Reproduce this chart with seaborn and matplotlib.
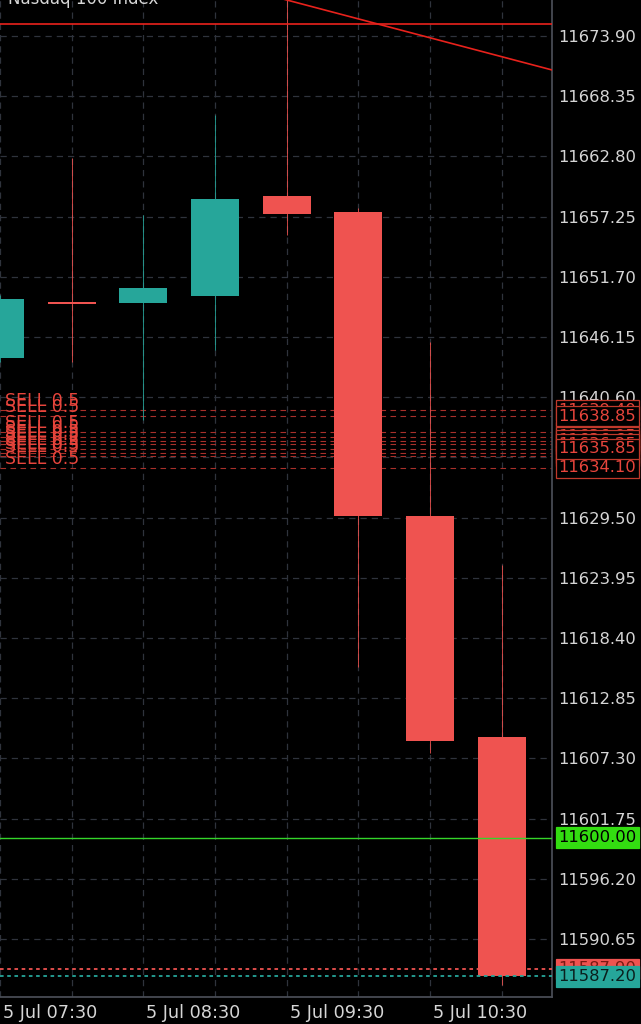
import numpy as np
import pandas as pd
import seaborn as sns
import matplotlib.pyplot as plt
import matplotlib.transforms as mtransforms

# 30 minute candles, 5 Jul
times = ["07:30", "08:00", "08:30", "09:00", "09:30", "10:00", "10:30", "11:00"]
opens = [11644.20, 11649.40, 11649.30, 11649.95, 11659.15, 11657.65, 11629.65, 11609.25]
highs = [11650.00, 11662.65, 11657.40, 11666.60, 11680.00, 11658.05, 11645.70, 11625.10]
lows = [11643.80, 11643.85, 11638.50, 11644.95, 11655.55, 11615.75, 11607.80, 11586.40]
closes = [11649.65, 11649.20, 11650.65, 11658.85, 11657.50, 11629.65, 11608.90, 11587.20]

price_ticks = [11673.90, 11668.35, 11662.80, 11657.25, 11651.70, 11646.15, 11640.60,
               11635.05, 11629.50, 11623.95, 11618.40, 11612.85, 11607.30, 11601.75,
               11596.20, 11590.65]

# pending sell orders (draw order: the last ones end up on top)
sell_levels = [11639.40, 11637.40, 11636.95, 11636.60, 11636.25, 11635.50, 11635.15,
               11634.10, 11638.85, 11635.85]
sell_label = "SELL 0.5"

resistance_level = 11675.00
target_level = 11600.00
bid_level = 11587.90
last_price = 11587.20
trend_x = [3.8, 7.7]
trend_y = [11677.57, 11670.77]

UP = "#26a69a"
DOWN = "#ef5350"
RED_LINE = "#e8221c"
GRID = "#2f333c"
TXT = "#d6d6d6"

sns.set_theme(style="dark", rc={
    "axes.facecolor": "black",
    "figure.facecolor": "black",
    "axes.edgecolor": "#4a4e57",
})
plt.rcParams['font.family'] = ['DejaVu Sans']

df = pd.DataFrame({"t": times, "o": opens, "h": highs, "l": lows, "c": closes})
df["x"] = np.arange(len(df))
df["up"] = df["c"] >= df["o"]
df["color"] = np.where(df["up"], UP, DOWN)

fig = plt.figure(figsize=(6.41, 10.24), dpi=100)
ax = fig.add_axes([0.0, 27 / 1024, 552 / 641, 1 - 27 / 1024])

# wicks and bodies
ax.vlines(df["x"], df["l"], df["h"], colors=df["color"], lw=0.7, alpha=0.85, zorder=3)
ax.bar(df["x"], (df["c"] - df["o"]).abs().clip(lower=0.15),
       bottom=df[["o", "c"]].min(axis=1), width=0.67, color=df["color"],
       edgecolor="none", zorder=4)

# horizontal levels
ax.axhline(resistance_level, color=RED_LINE, lw=1.2, zorder=5)
ax.axhline(target_level, color="#34d52a", lw=1.0, zorder=5)
ax.axhline(bid_level, color=DOWN, lw=1.3, ls=(0, (2, 2)), zorder=5)
ax.axhline(last_price, color=UP, lw=1.3, ls=(0, (2, 2)), zorder=5)
sns.lineplot(x=trend_x, y=trend_y, ax=ax, color=RED_LINE, lw=1.2, zorder=5)

for lvl in sell_levels:
    ax.axhline(lvl, color="#a8302a", lw=0.8, ls=(0, (5, 4)), zorder=2)
    ax.annotate(sell_label, xy=(0, lvl), xycoords=("axes fraction", "data"),
                xytext=(3.5, 0), textcoords="offset points", ha="left",
                va="bottom", color="#e8453c", fontsize=12.5, zorder=6)

ax.set_xlim(0, 7.70)
ax.set_ylim(11585.30, 11677.22)

ax.set_yticks(price_ticks)
ax.set_yticklabels([f"{v:.2f}" for v in price_ticks])
ax.yaxis.tick_right()
ax.tick_params(axis="y", length=0, pad=4.5, labelcolor=TXT, labelsize=11.8)

ax.set_xticks(df["x"])
ax.set_xticklabels([f"5 Jul {t}" if i % 2 == 0 else "" for i, t in enumerate(times)])
ax.tick_params(axis="x", length=0, pad=5, labelcolor=TXT, labelsize=12.7)
for lab in ax.get_xticklabels():
    lab.set_ha("left")
    lab.set_transform(lab.get_transform() + mtransforms.ScaledTranslation(3 / 100, 0, fig.dpi_scale_trans))

ax.grid(True, color=GRID, lw=0.9, ls=(0, (5, 4)))
ax.set_axisbelow(True)
for side in ["top", "left"]:
    ax.spines[side].set_visible(False)
ax.spines["right"].set_color("#4a4e57")
ax.spines["bottom"].set_color("#4a4e57")


def price_box(value, text_color, face, edge):
    ax.annotate(f"{value:.2f}", xy=(1, value), xycoords=("axes fraction", "data"),
                xytext=(4.5, 0), textcoords="offset points", ha="left", va="center",
                color=text_color, fontsize=11.8, annotation_clip=False, zorder=10,
                bbox=dict(boxstyle="square,pad=0.16", facecolor=face, edgecolor=edge, lw=0.9))


for lvl in sell_levels:
    price_box(lvl, "#e8453c", "black", "#c0392b")
price_box(target_level, "black", "#33dd11", "#33dd11")
price_box(bid_level, "#7a1a14", DOWN, DOWN)
price_box(last_price, "#0a1f1d", UP, UP)

fig.text(8 / 641, 1 - 4 / 1024, "Nasdaq 100 Index", color=TXT, fontsize=12,
         ha="left", va="baseline")

fig.savefig("out.png", dpi=100, facecolor="black")
